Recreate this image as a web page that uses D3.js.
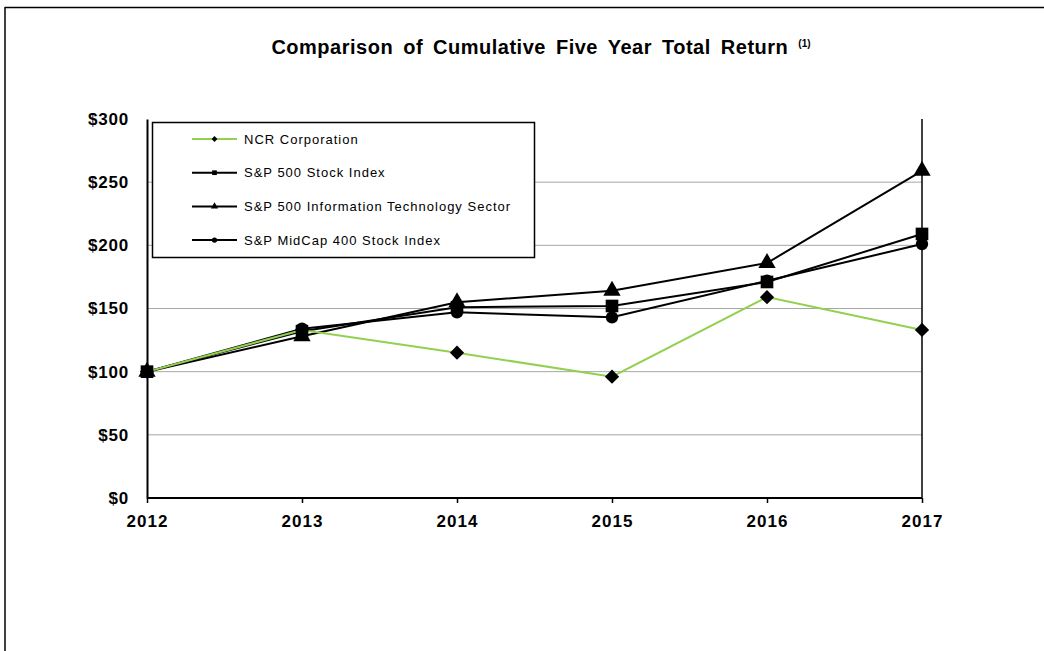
<!DOCTYPE html>
<html>
<head>
<meta charset="utf-8">
<script src="https://cdn.jsdelivr.net/npm/d3@7"></script>
<style>
  body { margin: 0; background: #fff; }
  svg { display: block; font-family: Arial, 'Liberation Sans', sans-serif; }
</style>
</head>
<body>
<div id="chart-container"></div>
<script>
const years = [2012, 2013, 2014, 2015, 2016, 2017]
const yTicks = [0, 50, 100, 150, 200, 250, 300]

const ncrValues = [100, 133, 115, 96, 159, 133]
const sp500Values = [100, 132, 151, 152, 171, 209]
const itValues = [100, 128, 155, 164, 186, 259]
const midcapValues = [100, 134, 147, 143, 172, 201]

const seriesNames = [
  'NCR Corporation',
  'S&P 500 Stock Index',
  'S&P 500 Information Technology Sector',
  'S&P MidCap 400 Stock Index',
]

const width = 1044
const height = 651

const svg = d3
  .select('#chart-container')
  .append('svg')
  .attr('width', width)
  .attr('height', height)

// outer frame (top + left edges only visible)
svg.append('line').attr('x1', 5).attr('x2', width).attr('y1', 7.5).attr('y2', 7.5).attr('stroke', '#000').attr('stroke-width', 1.5)
svg.append('line').attr('x1', 5).attr('x2', 5).attr('y1', 7).attr('y2', height).attr('stroke', '#000').attr('stroke-width', 1.5)

const x = d3.scalePoint().domain(years).range([147, 922])
const y = d3.scaleLinear().domain([0, 300]).range([498, 119])

// gridlines
svg
  .append('g')
  .selectAll('line')
  .data(yTicks.filter(t => t > 0 && t < 300))
  .join('line')
  .attr('x1', 147)
  .attr('x2', 922)
  .attr('y1', d => y(d))
  .attr('y2', d => y(d))
  .attr('stroke', '#a6a6a6')
  .attr('stroke-width', 1)

// right border of plot
svg.append('line').attr('x1', 922).attr('x2', 922).attr('y1', y(300)).attr('y2', y(0)).attr('stroke', '#000').attr('stroke-width', 1.5)

// y axis
const yAxis = svg
  .append('g')
  .attr('transform', 'translate(147,0)')
  .call(d3.axisLeft(y).tickValues(yTicks).tickSize(0).tickPadding(18).tickFormat(d => '$' + d))
yAxis.select('.domain').attr('stroke', '#000').attr('stroke-width', 2)
yAxis.selectAll('text').attr('font-size', 17).attr('font-weight', 'bold').attr('letter-spacing', 0.8).attr('fill', '#000')

// x axis
const xAxis = svg
  .append('g')
  .attr('transform', `translate(0,${y(0)})`)
  .call(d3.axisBottom(x).tickSize(5).tickPadding(12).tickFormat(d => d))
xAxis.select('.domain').attr('stroke', '#000').attr('stroke-width', 2).attr('d', `M147,0H922`)
xAxis.selectAll('line').attr('stroke', '#000').attr('stroke-width', 1.5)
xAxis.selectAll('text').attr('font-size', 17).attr('font-weight', 'bold').attr('letter-spacing', 1).attr('fill', '#000')

const series = [
  { name: seriesNames[0], values: ncrValues, color: '#92d050', symbol: d3.symbolDiamond2, size: 130 },
  { name: seriesNames[1], values: sp500Values, color: '#000', symbol: d3.symbolSquare, size: 160 },
  { name: seriesNames[2], values: itValues, color: '#000', symbol: d3.symbolTriangle, size: 130 },
  { name: seriesNames[3], values: midcapValues, color: '#000', symbol: d3.symbolCircle, size: 120 },
]

const line = d3
  .line()
  .x((d, i) => x(years[i]))
  .y(d => y(d))

// draw NCR last so green line sits on top of the black lines
const drawOrder = [3, 2, 1, 0]
drawOrder.forEach(i => {
  const s = series[i]
  svg
    .append('path')
    .attr('d', line(s.values))
    .attr('fill', 'none')
    .attr('stroke', s.color)
    .attr('stroke-width', 2)
})
drawOrder.forEach(i => {
  const s = series[i]
  svg
    .append('g')
    .selectAll('path')
    .data(s.values)
    .join('path')
    .attr('transform', (d, j) => `translate(${x(years[j])},${y(d)})`)
    .attr('d', d3.symbol().type(s.symbol).size(s.size))
    .attr('fill', '#000')
})

// legend
const legend = svg.append('g')
legend
  .append('rect')
  .attr('x', 152.5)
  .attr('y', 122.5)
  .attr('width', 382)
  .attr('height', 135)
  .attr('fill', '#fff')
  .attr('stroke', '#000')
  .attr('stroke-width', 1.5)

const legendRows = legend
  .selectAll('g')
  .data(series)
  .join('g')
  .attr('transform', (d, i) => `translate(0,${139 + i * 33.7})`)

legendRows
  .append('line')
  .attr('x1', 192)
  .attr('x2', 237)
  .attr('stroke', d => d.color)
  .attr('stroke-width', 2)
legendRows
  .append('path')
  .attr('transform', 'translate(214.5,0)')
  .attr('d', d => d3.symbol().type(d.symbol).size(22)())
  .attr('fill', '#000')
legendRows
  .append('text')
  .attr('x', 244)
  .attr('dy', '0.35em')
  .attr('font-size', 13)
  .attr('letter-spacing', 1)
  .attr('fill', '#000')
  .text(d => d.name)

// title
const title = svg
  .append('text')
  .attr('x', 541)
  .attr('y', 54)
  .attr('text-anchor', 'middle')
  .attr('font-size', 20)
  .attr('font-weight', 'bold')
  .attr('letter-spacing', 0.5)
  .attr('word-spacing', 4)
  .attr('fill', '#000')
title.append('tspan').text('Comparison of Cumulative Five Year Total Return ')
title.append('tspan').attr('font-size', 10).attr('dy', -7).attr('letter-spacing', 0).text('(1)')
</script>
</body>
</html>
